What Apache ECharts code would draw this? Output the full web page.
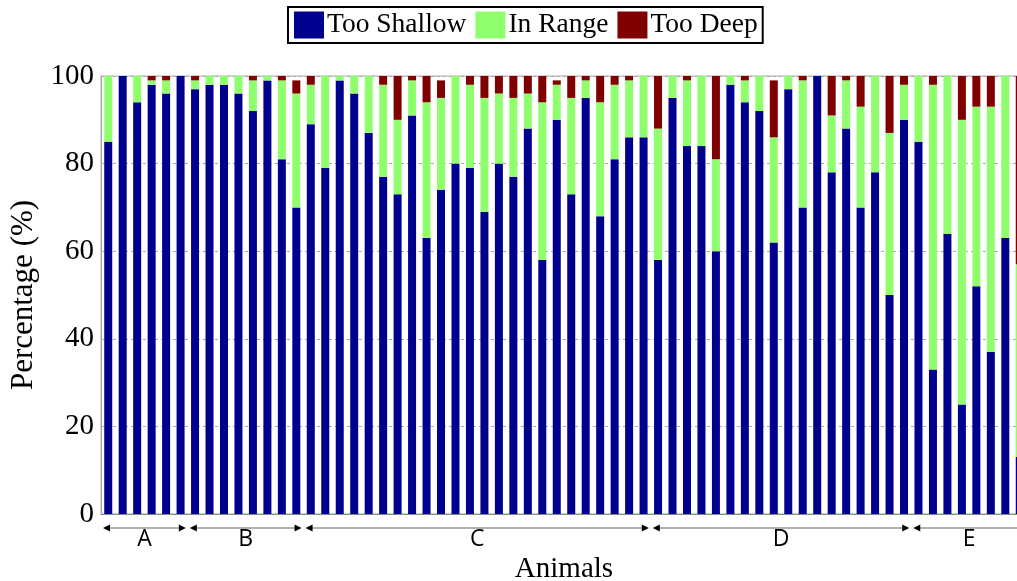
<!DOCTYPE html>
<html>
<head>
<meta charset="utf-8">
<title>Depth by animal</title>
<script src="https://cdn.jsdelivr.net/npm/echarts@6/dist/echarts.min.js"></script>
<style>
  html, body { margin: 0; padding: 0; background: #fff; }
  #chart { width: 1017px; height: 581px; }
</style>
</head>
<body>
<div id="chart"></div>
<script>
// Percentage of measurements per animal, split by depth outcome
const tooShallow = [85, 100, 94, 98, 96, 100, 97, 98, 98, 96, 92, 99, 81, 70,
  89, 79, 99, 96, 87, 77, 73, 91, 63, 74, 80, 79, 69, 80, 77, 88, 58, 90, 73, 95, 68, 81, 86, 86,
  58, 95, 84, 84, 60, 98, 94, 92, 62, 97, 70, 100, 78, 88, 70, 78, 50, 90,
  85, 33, 64, 25, 52, 37, 63, 13];
const inRange = [15, 0, 6, 1, 3, 0, 2, 2, 2, 4, 7, 1, 18, 26,
  9, 21, 1, 4, 13, 21, 17, 8, 31, 21, 20, 19, 26, 16, 18, 8, 36, 8, 22, 4, 26, 17, 13, 14,
  30, 5, 15, 16, 21, 2, 5, 8, 24, 3, 29, 0, 13, 11, 23, 22, 37, 8,
  15, 65, 36, 65, 41, 56, 37, 44];
const tooDeep = [0, 0, 0, 1, 1, 0, 1, 0, 0, 0, 1, 0, 1, 3,
  2, 0, 0, 0, 0, 2, 10, 1, 6, 4, 0, 2, 5, 4, 5, 4, 6, 1, 5, 1, 6, 2, 1, 0,
  12, 0, 1, 0, 19, 0, 1, 0, 13, 0, 1, 0, 9, 1, 7, 0, 13, 2,
  0, 2, 0, 10, 7, 7, 0, 43];

// Animal groups, in order along the x axis
const groupLabels = ['A', 'B', 'C', 'D', 'E'];
const groupSizes = [6, 8, 24, 18, 8];

const yTicks = [0, 20, 40, 60, 80, 100];
const animals = tooShallow.map((_, i) => String(i + 1));

const colors = { shallow: '#00008f', range: '#90ff6e', deep: '#800000' };
const serif = '"Liberation Serif", "Times New Roman", serif';

const chart = echarts.init(document.getElementById('chart'), null, { renderer: 'canvas' });

const option = {
  animation: false,
  backgroundColor: '#fff',
  legend: {
    top: 7,
    left: 288,
    itemWidth: 30,
    itemHeight: 27,
    itemGap: 9,
    padding: [4, 5, 4, 6],
    borderColor: '#000',
    borderWidth: 2,
    icon: 'rect',
    textStyle: { fontFamily: serif, fontSize: 27.5, color: '#000', padding: [0, 0, 0, -2] },
    data: ['Too Shallow', 'In Range', 'Too Deep']
  },
  grid: {
    left: 101,
    top: 76,
    width: 926,
    height: 438,
    outerBoundsMode: 'none',
    containLabel: false,
    show: true,
    borderColor: '#aaa',
    borderWidth: 1,
    backgroundColor: 'transparent'
  },
  xAxis: {
    type: 'category',
    data: animals,
    name: 'Animals',
    nameLocation: 'middle',
    nameGap: 41,
    nameTextStyle: { fontFamily: serif, fontSize: 29, color: '#000' },
    axisLine: { lineStyle: { color: '#888', width: 1 } },
    axisTick: { show: false },
    axisLabel: { show: false },
    splitLine: { show: false }
  },
  yAxis: {
    type: 'value',
    min: yTicks[0],
    max: yTicks[yTicks.length - 1],
    interval: yTicks[1] - yTicks[0],
    name: 'Percentage (%)',
    nameLocation: 'middle',
    nameRotate: 90,
    nameGap: 54,
    nameTextStyle: { fontFamily: serif, fontSize: 31, color: '#000' },
    axisLine: { show: true, lineStyle: { color: '#aaa' } },
    axisTick: { show: false },
    axisLabel: { fontFamily: serif, fontSize: 29, color: '#000', margin: 7 },
    splitLine: { show: true, lineStyle: { color: '#aaa', type: [3, 3], width: 1 } }
  },
  series: [
    { name: 'Too Shallow', type: 'bar', stack: 'depth', barWidth: 8, data: tooShallow,
      itemStyle: { color: colors.shallow } },
    { name: 'In Range', type: 'bar', stack: 'depth', barWidth: 8, data: inRange,
      itemStyle: { color: colors.range } },
    { name: 'Too Deep', type: 'bar', stack: 'depth', barWidth: 8, data: tooDeep,
      itemStyle: { color: colors.deep } }
  ]
};

chart.setOption(option);

// Group brackets under the x axis: a double-headed arrow and a letter per group
function drawGroups() {
  const c0 = chart.convertToPixel({ xAxisIndex: 0 }, 0);
  const c1 = chart.convertToPixel({ xAxisIndex: 0 }, 1);
  const band = c1 - c0;
  const y0 = chart.convertToPixel({ yAxisIndex: 0 }, 0);
  const ay = y0 + 14;
  const ly = y0 + 25;
  const elements = [];
  let start = 0;
  groupSizes.forEach((size, g) => {
    const end = start + size - 1;
    const xL = chart.convertToPixel({ xAxisIndex: 0 }, start) - band / 2 + 2;
    const xR = chart.convertToPixel({ xAxisIndex: 0 }, end) + band / 2 - 2;
    elements.push({
      type: 'line', silent: true,
      shape: { x1: xL + 3, y1: ay, x2: xR - 3, y2: ay },
      style: { stroke: '#666', lineWidth: 1 }
    });
    elements.push({
      type: 'polygon', silent: true,
      shape: { points: [[xL, ay], [xL + 7, ay - 3.5], [xL + 7, ay + 3.5]] },
      style: { fill: '#000' }
    });
    elements.push({
      type: 'polygon', silent: true,
      shape: { points: [[xR, ay], [xR - 7, ay - 3.5], [xR - 7, ay + 3.5]] },
      style: { fill: '#000' }
    });
    elements.push({
      type: 'text', silent: true,
      x: (xL + xR) / 2, y: ly,
      style: {
        text: groupLabels[g],
        fontFamily: '"Open Sans", "DejaVu Sans", sans-serif',
        fontSize: 23,
        fill: '#000',
        align: 'center',
        verticalAlign: 'middle'
      }
    });
    start = end + 1;
  });
  chart.setOption({ graphic: { elements: elements } });
}
drawGroups();
</script>
</body>
</html>
